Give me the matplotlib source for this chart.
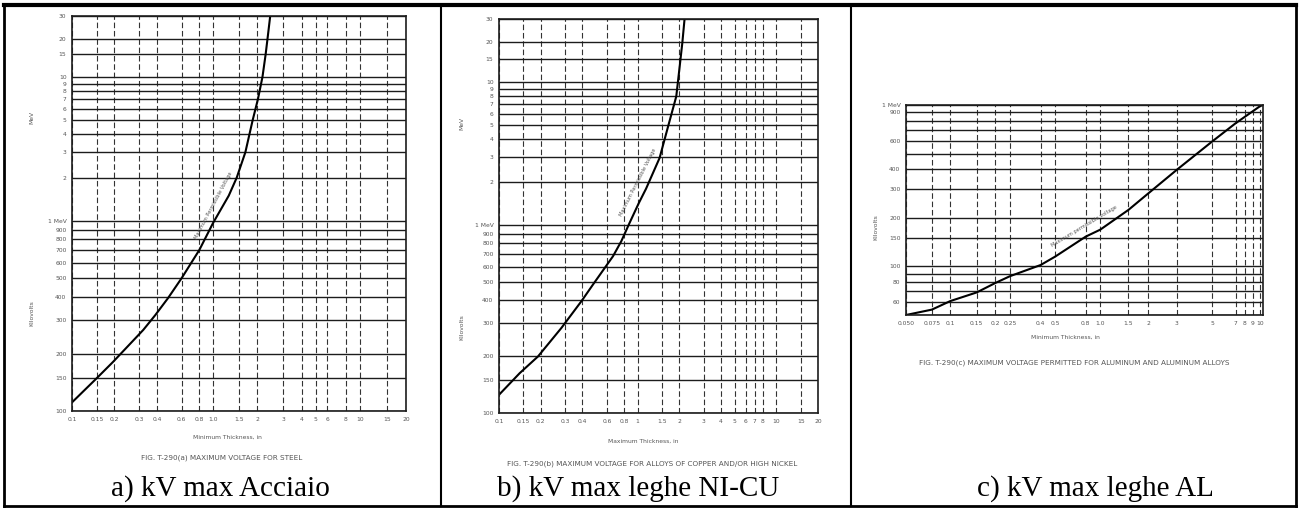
import matplotlib
matplotlib.use('Agg')
import matplotlib.pyplot as plt
import numpy as np
from matplotlib.lines import Line2D

W, H = 1300, 509

# a) steel
steel_thk = [0.1, 0.15, 0.195, 0.32, 0.39, 0.48, 0.6, 0.8, 1.0, 1.28, 1.45, 1.66, 1.86, 2.02, 2.17, 2.28, 2.35, 2.45]
steel_kv = [111, 149, 181, 267, 320, 393, 501, 704, 975, 1500, 2000, 3000, 5000, 7000, 10000, 15000, 20000, 30000]

# b) copper / high nickel alloys
cuni_thk = [0.1, 0.141, 0.191, 0.282, 0.393, 0.476, 0.664, 0.762, 0.875, 1.02, 1.15, 1.44, 1.66, 1.9, 2.01, 2.1, 2.18]
cuni_kv = [125, 163, 200, 284, 394, 483, 684, 822, 1040, 1430, 1800, 2950, 4910, 7940, 13100, 19700, 30000]

# c) aluminium alloys
al_thk = [0.05, 0.075, 0.1, 0.15, 0.2, 0.25, 0.4, 0.5, 0.8, 1.0, 1.5, 2, 3, 5, 7, 10, 10.4]
al_kv = [50, 54, 61, 69, 79, 87, 102, 115, 153, 169, 224, 284, 396, 594, 770, 986, 1000]

mev_ticks = [100, 150, 200, 300, 400, 500, 600, 700, 800, 900, 1000,
             2000, 3000, 4000, 5000, 6000, 7000, 8000, 9000, 10000, 15000, 20000, 30000]
mev_labels = ['100', '150', '200', '300', '400', '500', '600', '700', '800', '900', '1 MeV',
              '2', '3', '4', '5', '6', '7', '8', '9', '10', '15', '20', '30']

a_xticks = [0.1, 0.15, 0.2, 0.3, 0.4, 0.6, 0.8, 1.0, 1.5, 2, 3, 4, 5, 6, 8, 10, 15, 20]
a_xlabels = ['0.1', '0.15', '0.2', '0.3', '0.4', '0.6', '0.8', '1.0', '1.5', '2', '3', '4', '5', '6', '8', '10', '15', '20']
b_xticks = [0.1, 0.15, 0.2, 0.3, 0.4, 0.6, 0.8, 1, 1.5, 2, 3, 4, 5, 6, 7, 8, 10, 15, 20]
b_xlabels = ['0.1', '0.15', '0.2', '0.3', '0.4', '0.6', '0.8', '1', '1.5', '2', '3', '4', '5', '6', '7', '8', '10', '15', '20']
c_xticks = [0.05, 0.075, 0.1, 0.15, 0.2, 0.25, 0.4, 0.5, 0.8, 1.0, 1.5, 2, 3, 5, 7, 8, 9, 10]
c_xlabels = ['0.050', '0.075', '0.1', '0.15', '0.2', '0.25', '0.4', '0.5', '0.8', '1.0', '1.5', '2', '3', '5', '7', '8', '9', '10']
c_yticks = [50, 60, 70, 80, 90, 100, 150, 200, 300, 400, 500, 600, 700, 800, 900, 1000]
c_ylabels = ['', '60', '', '80', '', '100', '150', '200', '300', '400', '', '600', '', '', '900', '1 MeV']

INK = '#1c1c1c'
FAINT = '#555555'


def seg_log(values, offsets):
    # piecewise log scale, the old nomograms do not keep one decade length
    lv = np.log10(values)
    off = np.asarray(offsets, float)

    def fwd(v):
        v = np.clip(np.asarray(v, float), 1e-12, None)
        return np.interp(np.log10(v), lv, off)

    def inv(p):
        return 10 ** np.interp(p, off, lv)
    return fwd, inv


def px_axes(fig, x0, y0, x1, y1):
    return fig.add_axes([x0 / W, 1 - y1 / H, (x1 - x0) / W, (y1 - y0) / H])


def ftext(fig, x, y, s, **kw):
    fig.text(x / W, 1 - y / H, s, **kw)


def style_chart(ax, xticks, xlabels, yticks, ylabels):
    ax.set_xticks(xticks)
    ax.set_xticklabels(xlabels)
    ax.set_yticks(yticks)
    ax.set_yticklabels(ylabels)
    ax.minorticks_off()
    ax.tick_params(length=0, labelsize=4.3, labelcolor=FAINT, pad=4)
    ax.yaxis.grid(True, color=INK, lw=1.0)
    ax.xaxis.grid(True, color='#333333', lw=0.8, ls=(0, (5, 2.5)))
    for s in ax.spines.values():
        s.set_color(INK)
        s.set_linewidth(1.2)


fig = plt.figure(figsize=(W / 100, H / 100), dpi=100)

# a) steel
ax = px_axes(fig, 72, 16, 406, 411)
ax.set_xscale('function', functions=seg_log([0.1, 1, 10, 20], [0, 141, 288, 334]))
ax.set_yscale('function', functions=seg_log([100, 1000, 10000, 30000], [0, 190, 334, 395]))
ax.set_xlim(0.1, 20)
ax.set_ylim(100, 30000)
style_chart(ax, a_xticks, a_xlabels, mev_ticks, mev_labels)
ax.plot(steel_thk, steel_kv, color='black', lw=1.5)
ax.text(0.425, 0.52, 'Maximum Permissible Voltage', transform=ax.transAxes, rotation=62,
        fontsize=3.6, color=FAINT, ha='center', va='center')

# b) copper / nickel
ax = px_axes(fig, 499, 19, 818, 413)
ax.set_xscale('function', functions=seg_log([0.1, 20], [0, 319]))
ax.set_yscale('function', functions=seg_log([100, 1000, 10000, 30000], [0, 187.7, 331, 394]))
ax.set_xlim(0.1, 20)
ax.set_ylim(100, 30000)
style_chart(ax, b_xticks, b_xlabels, mev_ticks, mev_labels)
ax.plot(cuni_thk, cuni_kv, color='black', lw=1.5)
ax.text(0.435, 0.585, 'Maximum Permissible Voltage', transform=ax.transAxes, rotation=63,
        fontsize=3.6, color=FAINT, ha='center', va='center')

# c) aluminium
ax = px_axes(fig, 906, 105, 1263, 315)
ax.set_xscale('function', functions=seg_log([0.05, 0.1, 1, 10, 10.4], [0, 44.3, 194.3, 354.3, 357]))
ax.set_yscale('function', functions=seg_log([50, 1000], [0, 210]))
ax.set_xlim(0.05, 10.4)
ax.set_ylim(50, 1000)
style_chart(ax, c_xticks, c_xlabels, c_yticks, c_ylabels)
ax.plot(al_thk, al_kv, color='black', lw=1.5)
ax.text(0.5, 0.42, 'Maximum permissible voltage', transform=ax.transAxes, rotation=31,
        fontsize=3.6, color=FAINT, ha='center', va='center')

# axis names and figure notes of the scanned charts
small = dict(fontsize=4.3, color=FAINT, ha='center', va='center')
ftext(fig, 32, 117, 'MeV', rotation=90, **small)
ftext(fig, 32, 313, 'Kilovolts', rotation=90, **small)
ftext(fig, 462, 123, 'MeV', rotation=90, **small)
ftext(fig, 462, 327, 'Kilovolts', rotation=90, **small)
ftext(fig, 876, 227, 'Kilovolts', rotation=90, **small)
ftext(fig, 227, 437, 'Minimum Thickness, in', **small)
ftext(fig, 643, 441, 'Maximum Thickness, in', **small)
ftext(fig, 1065, 337, 'Minimum Thickness, in', **small)

note = dict(fontsize=5.2, color=FAINT, ha='center', va='center')
ftext(fig, 222, 458, 'FIG. T-290(a) MAXIMUM VOLTAGE FOR STEEL', **note)
ftext(fig, 652, 464, 'FIG. T-290(b) MAXIMUM VOLTAGE FOR ALLOYS OF COPPER AND/OR HIGH NICKEL', **note)
ftext(fig, 1074, 363, 'FIG. T-290(c) MAXIMUM VOLTAGE PERMITTED FOR ALUMINUM AND ALUMINUM ALLOYS', **note)

cap = dict(fontsize=21, family='Liberation Serif', color='black', ha='center', va='center')
ftext(fig, 220, 489, 'a) kV max Acciaio', **cap)
ftext(fig, 638, 489, 'b) kV max leghe NI-CU', **cap)
ftext(fig, 1095, 489, 'c) kV max leghe AL', **cap)

# table frame around the three pictures
for x0, y0, x1, y1, lw in [(4, 5, 1296, 5, 3), (4, 506, 1296, 506, 2), (4, 5, 4, 506, 2),
                           (1296, 5, 1296, 506, 2), (441, 5, 441, 506, 1.5), (851, 5, 851, 506, 1.5)]:
    fig.add_artist(Line2D([x0 / W, x1 / W], [1 - y0 / H, 1 - y1 / H], color='black', lw=lw,
                          transform=fig.transFigure))

fig.savefig('out.png', dpi=100)
